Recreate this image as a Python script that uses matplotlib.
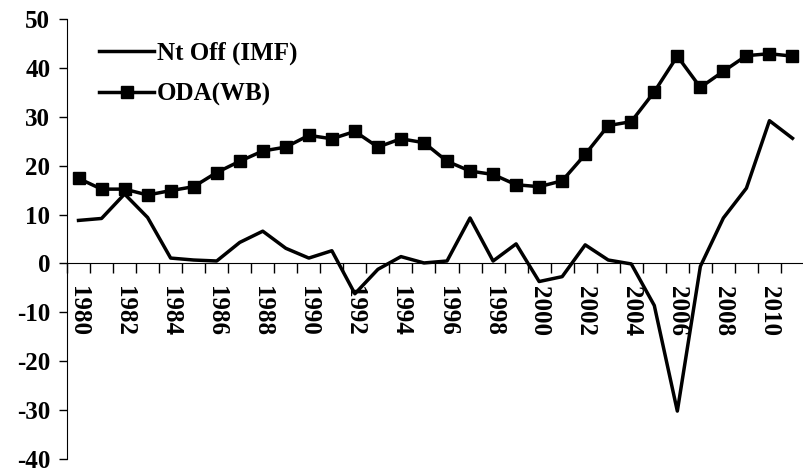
import numpy as np
import matplotlib.pyplot as plt

years = list(range(1980, 2012))
nt_off = [8.8, 9.2, 14.2, 9.4, 1.1, 0.7, 0.5, 4.3, 6.6, 3.1, 1.1,
          2.6, -6.2, -1.2, 1.4, 0.1, 0.5, 9.3, 0.5, 4.0, -3.7,
          -2.7, 3.8, 0.7, -0.1, -8.6, -30.2, -0.6, 9.3, 15.4, 29.2, 25.6]
oda = [17.4, 15.2, 15.2, 14.0, 14.9, 15.7, 18.6, 20.9, 23.0, 23.8, 26.2,
       25.5, 27.0, 23.8, 25.5, 24.7, 20.9, 18.9, 18.2, 16.1, 15.7,
       16.9, 22.3, 28.2, 29.0, 35.1, 42.4, 36.0, 39.3, 42.5, 42.9, 42.4]

plt.rcParams['font.family'] = ['Liberation Serif', 'DejaVu Serif']
plt.rcParams['font.weight'] = 'bold'
plt.rcParams['axes.unicode_minus'] = False

fig = plt.figure(figsize=(8.04, 4.75), dpi=100)
ax = fig.add_axes([67/804, 16/475, 737/804, 440/475])

x = np.arange(len(years))
ax.plot(x, nt_off, color='black', lw=2.5, label='Nt Off (IMF)')
ax.plot(x, oda, color='black', lw=2.5, marker='s', markersize=8,
        label='ODA(WB)')

ax.set_xlim(-0.5, 31.13)
ax.set_ylim(-40, 50)
ax.set_yticks(range(-40, 51, 10))
ax.tick_params(axis='y', direction='out', length=6, width=1, labelsize=18, pad=6)

ax.spines['top'].set_visible(False)
ax.spines['right'].set_visible(False)
ax.spines['bottom'].set_position(('data', 0))

# ticks between categories, labels for even years
ax.set_xticks(np.arange(-0.5, len(years), 1))
ax.set_xticklabels([])
ax.tick_params(axis='x', which='major', direction='out', length=7, width=1)
even = [i for i, y in enumerate(years) if y % 2 == 0]
ax.set_xticks(even, minor=True)
ax.set_xticklabels([str(years[i]) for i in even], minor=True, rotation=-90,
                   fontsize=18, fontweight='bold')
ax.tick_params(axis='x', which='minor', length=0, pad=16)
for lab in ax.get_xticklabels(minor=True):
    lab.set_verticalalignment('top')

leg = ax.legend(loc='upper left', bbox_to_anchor=(0.013, 1.0), frameon=False,
                handlelength=2.2, handletextpad=0.1,
                labelspacing=0.7, prop={'weight': 'bold', 'size': 18})

fig.savefig('out.png', dpi=100)
